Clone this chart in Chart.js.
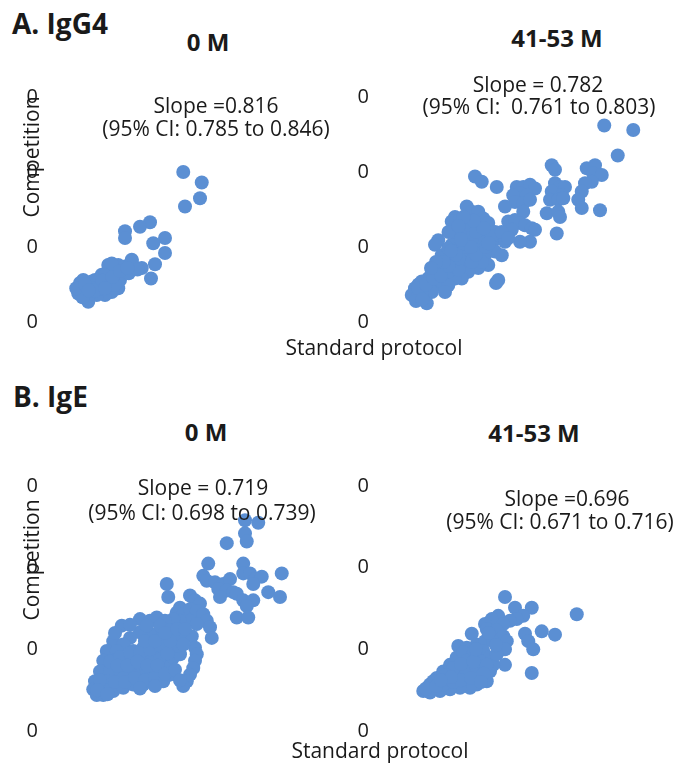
<!DOCTYPE html>
<html>
<head>
<meta charset="utf-8">
<script src="https://cdn.jsdelivr.net/npm/chart.js@4.4.1/dist/chart.umd.min.js"></script>
<style>
  body { margin: 0; background: #fff; }
  #fig { position: relative; width: 682px; height: 769px; overflow: hidden; font-family: 'Open Sans', sans-serif; color: #1a1a1a; }
  #fig canvas { position: absolute; }
  .t { position: absolute; transform: translate(-50%, -50%); white-space: nowrap; line-height: 1; font-size: 21px; }
  .b { font-weight: bold; font-size: 24px; }
  .panel { font-weight: bold; font-size: 28px; transform: translate(0, -50%); }
  .rot { transform: translate(-50%, -50%) rotate(-90deg); }
</style>
</head>
<body>
<div id="fig">
  <canvas id="igg4Base" width="341" height="260" style="left:0;top:80px"></canvas>
  <canvas id="igg4Late" width="341" height="260" style="left:341px;top:80px"></canvas>
  <canvas id="igeBase" width="341" height="290" style="left:0;top:460px"></canvas>
  <canvas id="igeLate" width="341" height="290" style="left:341px;top:460px"></canvas>

  <div class="t panel" style="left:12px;top:23px">A. IgG4</div>
  <div class="t b" style="left:208px;top:42px">0 M</div>
  <div class="t b" style="left:557px;top:38px">41-53 M</div>
  <div class="t" style="left:216px;top:105px">Slope =0.816</div>
  <div class="t" style="left:216px;top:128px">(95% CI: 0.785 to 0.846)</div>
  <div class="t" style="left:538px;top:84px">Slope = 0.782</div>
  <div class="t" style="left:539px;top:106px">(95% CI:&nbsp; 0.761 to 0.803)</div>
  <div class="t rot" style="left:31px;top:157px">Competition</div>
  <div class="t" style="left:374px;top:347px">Standard protocol</div>

  <div class="t panel" style="left:13px;top:396px">B. IgE</div>
  <div class="t b" style="left:206px;top:432px">0 M</div>
  <div class="t b" style="left:534px;top:433px">41-53 M</div>
  <div class="t" style="left:203px;top:487px">Slope = 0.719</div>
  <div class="t" style="left:202px;top:512px">(95% CI: 0.698 to 0.739)</div>
  <div class="t" style="left:567px;top:498px">Slope =0.696</div>
  <div class="t" style="left:560px;top:521px">(95% CI: 0.671 to 0.716)</div>
  <div class="t rot" style="left:31px;top:560px">Competition</div>
  <div class="t" style="left:380px;top:750px">Standard protocol</div>
</div>
<script>
// y ticks in the original all print as "0"
const yTickLabels = ['0', '0', '0', '0'];

// [standard protocol, competition]
const igg4Month0 = [
  [5.13, 2.00], [5.87, 1.86], [5.80, 1.65], [5.20, 1.54], [3.80, 1.33], [3.40, 1.27],
  [2.80, 1.21], [2.80, 1.12], [4.40, 1.12], [3.93, 1.05], [4.40, 0.92], [4.00, 0.77],
  [3.47, 0.72], [3.84, 0.58], [3.07, 0.81], [1.00, 0.52], [1.20, 0.45], [0.93, 0.38],
  [1.33, 0.27], [1.60, 0.56], [1.73, 0.47], [1.87, 0.63], [2.07, 0.54], [2.20, 0.69],
  [2.40, 0.63], [2.53, 0.76], [2.73, 0.67], [2.80, 0.74], [2.53, 0.45], [2.27, 0.40],
  [2.00, 0.36], [1.67, 0.36], [1.47, 0.54], [1.13, 0.56], [3.00, 0.76], [2.60, 0.56],
  [2.13, 0.76], [3.07, 0.83], [2.27, 0.78], [1.40, 0.38], [1.87, 0.45], [1.50, 0.45],
  [2.00, 0.62], [2.40, 0.50], [1.10, 0.33], [0.85, 0.45], [2.95, 0.65], [3.30, 0.70],
  [1.20, 0.50], [1.60, 0.42], [1.90, 0.55], [2.30, 0.60], [2.60, 0.68], [2.00, 0.45],
  [1.35, 0.42], [2.90, 0.72]
];

const igg4Month41to53 = [
  [8.73, 2.62], [9.89, 2.56], [9.27, 2.22], [6.63, 2.09], [6.76, 2.03], [8.03, 2.05],
  [8.36, 2.09], [8.29, 1.98], [8.63, 1.96], [8.23, 1.87], [7.96, 1.85], [7.83, 1.74],
  [7.69, 1.63], [7.83, 1.52], [8.56, 1.49], [3.56, 1.94], [3.83, 1.87], [4.43, 1.80],
  [5.23, 1.80], [5.49, 1.80], [5.76, 1.83], [5.96, 1.78], [5.36, 1.72], [5.09, 1.69],
  [5.63, 1.69], [5.16, 1.60], [5.49, 1.58], [5.76, 1.63], [6.76, 1.85], [6.96, 1.80],
  [7.16, 1.80], [6.63, 1.74], [7.03, 1.69], [6.56, 1.63], [6.89, 1.63], [7.09, 1.65],
  [6.43, 1.45], [6.89, 1.47], [6.96, 1.40], [6.83, 1.18], [4.76, 1.54], [5.49, 1.47],
  [4.89, 1.34], [5.16, 1.36], [5.36, 1.32], [5.56, 1.29], [5.83, 1.25], [5.96, 1.23],
  [5.03, 1.23], [5.76, 1.07], [5.36, 1.07], [4.49, 0.56], [4.40, 0.52], [3.23, 1.54],
  [2.76, 1.40], [2.63, 1.34], [2.96, 1.36], [3.43, 1.47], [3.69, 1.47], [3.89, 1.38],
  [4.09, 1.32], [4.36, 1.20], [4.49, 1.12], [4.76, 1.07], [4.23, 1.03], [4.36, 0.94],
  [4.63, 0.89], [2.09, 1.09], [1.96, 1.03], [2.36, 0.89], [2.63, 0.80], [3.03, 0.80],
  [3.29, 0.94], [3.56, 0.98], [3.83, 1.12], [3.69, 1.25], [3.16, 1.20], [2.89, 1.12],
  [3.43, 1.12], [3.96, 0.89], [4.09, 0.76], [3.69, 0.72], [3.29, 0.67], [3.03, 0.58],
  [2.76, 0.58], [2.49, 0.67], [2.23, 0.72], [1.96, 0.67], [1.69, 0.58], [1.43, 0.54],
  [1.16, 0.45], [1.03, 0.36], [1.29, 0.36], [1.56, 0.32], [1.69, 0.45], [1.96, 0.49],
  [2.23, 0.54], [2.49, 0.49], [1.83, 0.40], [2.36, 0.40], [1.63, 0.25], [1.43, 0.40],
  [3.03, 0.94], [2.63, 1.03], [2.23, 0.89], [2.76, 1.20], [2.49, 0.98], [4.23, 1.14],
  [4.63, 1.20], [4.89, 1.12], [3.83, 0.80], [3.43, 0.80], [1.80, 0.62], [2.10, 0.78],
  [2.90, 0.70], [3.20, 1.00], [3.60, 0.90], [3.30, 1.30], [2.50, 1.20], [4.00, 1.00],
  [1.30, 0.50], [2.90, 0.85], [1.30, 0.45], [1.60, 0.50], [1.90, 0.58], [2.20, 0.62],
  [2.50, 0.75], [2.80, 0.90], [3.10, 1.05], [3.40, 1.00], [3.00, 1.10], [2.60, 0.95],
  [2.30, 0.80], [2.00, 0.80], [1.80, 0.72], [3.60, 1.20], [3.90, 1.25], [4.10, 1.05],
  [3.50, 1.35], [3.10, 1.40], [2.90, 1.28], [1.20, 0.28], [1.45, 0.30]
];

const igeMonth0 = [
  [7.60, 2.58], [8.13, 2.55], [7.60, 2.42], [7.67, 2.32], [6.87, 2.30], [6.13, 2.05],
  [7.53, 2.05], [7.53, 1.93], [7.80, 1.93], [8.00, 1.86], [8.27, 1.89], [7.93, 1.80],
  [9.07, 1.93], [5.93, 1.90], [6.07, 1.84], [6.40, 1.82], [6.73, 1.80], [7.00, 1.86],
  [6.53, 1.74], [6.87, 1.72], [7.13, 1.70], [6.60, 1.64], [7.27, 1.68], [8.53, 1.70],
  [9.00, 1.64], [7.53, 1.60], [7.93, 1.60], [7.67, 1.53], [7.27, 1.39], [7.73, 1.39],
  [4.47, 1.80], [4.53, 1.64], [5.40, 1.66], [5.60, 1.60], [5.80, 1.56], [5.00, 1.51],
  [4.87, 1.45], [5.13, 1.43], [5.40, 1.49], [5.67, 1.47], [5.93, 1.43], [6.07, 1.35],
  [6.20, 1.27], [6.27, 1.14], [5.40, 1.35], [5.67, 1.31], [5.00, 1.35], [4.73, 1.37],
  [5.47, 1.16], [5.60, 1.02], [5.67, 0.94], [5.60, 0.86], [5.53, 0.77], [5.40, 0.69],
  [5.27, 0.61], [5.13, 0.55], [2.67, 1.29], [3.40, 1.37], [3.80, 1.35], [4.07, 1.39],
  [4.40, 1.35], [2.33, 1.10], [2.07, 0.98], [1.93, 0.86], [1.80, 0.73], [1.60, 0.61],
  [1.53, 0.51], [1.93, 0.44], [2.33, 0.49], [2.73, 0.53], [3.13, 0.57], [3.53, 0.57],
  [3.93, 0.59], [4.33, 0.61], [4.60, 0.69], [4.47, 0.81], [4.73, 0.90], [5.00, 0.94],
  [4.87, 1.04], [4.47, 1.10], [4.20, 1.19], [3.80, 1.19], [3.40, 1.21], [3.00, 1.14],
  [2.73, 1.06], [2.47, 0.98], [2.33, 0.86], [2.20, 0.73], [2.07, 0.61], [2.60, 0.73],
  [3.00, 0.77], [3.40, 0.81], [3.80, 0.86], [4.20, 0.90], [3.93, 1.02], [3.53, 1.02],
  [3.13, 0.98], [2.87, 0.90], [2.73, 0.65], [3.27, 0.67], [3.67, 0.69], [4.07, 0.73],
  [4.20, 1.29], [4.60, 1.23], [5.00, 1.19], [5.13, 1.06], [1.80, 0.53], [1.67, 0.44],
  [3.67, 1.29], [2.00, 0.50], [2.40, 0.60], [2.80, 0.60], [3.20, 0.65], [3.60, 0.62],
  [4.00, 0.65], [2.20, 0.85], [2.60, 0.90], [3.00, 0.95], [3.40, 0.95], [3.80, 1.00],
  [4.20, 1.05], [4.50, 0.95], [2.50, 0.80], [2.90, 0.80], [3.30, 0.85], [3.70, 0.80],
  [4.10, 0.80], [4.40, 0.70], [1.80, 0.62], [2.40, 1.20], [3.00, 1.30], [3.60, 1.10],
  [4.00, 1.10], [4.60, 1.10], [4.40, 1.20], [4.90, 1.25], [5.20, 1.25], [1.70, 0.50],
  [2.10, 0.45], [3.40, 0.52], [4.00, 0.55], [4.80, 0.75], [5.00, 0.62]
];

const igeMonth41to53 = [
  [4.76, 1.64], [5.16, 1.51], [5.83, 1.51], [5.49, 1.41], [5.23, 1.37], [4.96, 1.35],
  [7.63, 1.43], [4.49, 1.41], [4.23, 1.37], [4.69, 1.31], [3.96, 1.31], [4.03, 1.25],
  [3.43, 1.19], [5.56, 1.19], [5.69, 1.10], [5.89, 1.00], [6.23, 1.22], [6.76, 1.18],
  [4.43, 1.23], [4.69, 1.16], [4.83, 1.10], [4.76, 1.00], [4.76, 0.81], [5.83, 0.71],
  [2.89, 1.04], [3.23, 1.02], [3.63, 1.06], [3.96, 1.10], [4.29, 1.10], [1.49, 0.49],
  [1.76, 0.57], [2.03, 0.65], [2.29, 0.73], [2.56, 0.81], [2.83, 0.90], [3.09, 0.96],
  [3.49, 0.94], [3.89, 0.98], [4.16, 0.90], [4.29, 0.81], [4.16, 0.73], [4.03, 0.61],
  [3.63, 0.57], [3.36, 0.53], [2.96, 0.53], [2.56, 0.51], [2.16, 0.49], [1.76, 0.47],
  [1.89, 0.61], [2.43, 0.61], [2.83, 0.69], [3.23, 0.73], [3.63, 0.77], [3.76, 0.86],
  [3.23, 0.86], [2.69, 0.77], [2.29, 0.57], [4.03, 0.81], [4.43, 0.94], [1.60, 0.52],
  [2.00, 0.55], [2.40, 0.68], [2.70, 0.60], [3.00, 0.62], [3.40, 0.65], [3.00, 0.82],
  [3.50, 0.85], [2.60, 0.66], [3.90, 0.70], [3.60, 1.00], [4.40, 1.05], [4.10, 1.20],
  [3.80, 0.60], [2.20, 0.62]
];

const pointColor = '#5b8fd3';
Chart.defaults.font.family = "'Open Sans', sans-serif";

function scatter(id, points, axisWidth, padTop, padBottom, padRight) {
  new Chart(document.getElementById(id), {
    type: 'scatter',
    data: {
      datasets: [{
        data: points.map(([x, y]) => ({ x, y })),
        backgroundColor: pointColor,
        borderColor: pointColor,
        borderWidth: 0,
        pointRadius: 7,
        pointHoverRadius: 7,
        clip: false
      }]
    },
    options: {
      responsive: false,
      animation: false,
      layout: { padding: { top: padTop, bottom: padBottom, right: padRight, left: 0 } },
      plugins: { legend: { display: false }, tooltip: { enabled: false } },
      scales: {
        x: { type: 'linear', display: false, min: 0, max: 10 },
        y: {
          min: 0, max: 3,
          // hidden tick marks just push the labels away from the plot
          grid: { display: false, drawTicks: true, tickLength: 17 },
          border: { display: false },
          ticks: { stepSize: 1, padding: 0, color: '#1a1a1a', font: { size: 20 },
                   callback: (v, i) => yTickLabels[i] },
          afterFit: scale => { scale.width = axisWidth; }
        }
      }
    }
  });
}

scatter('igg4Base', igg4Month0, 55, 17, 18, 36);
scatter('igg4Late', igg4Month41to53, 45, 17, 18, 46);
scatter('igeBase', igeMonth0, 55, 26, 19, 36);
scatter('igeLate', igeMonth41to53, 45, 26, 19, 46);
</script>
</body>
</html>
